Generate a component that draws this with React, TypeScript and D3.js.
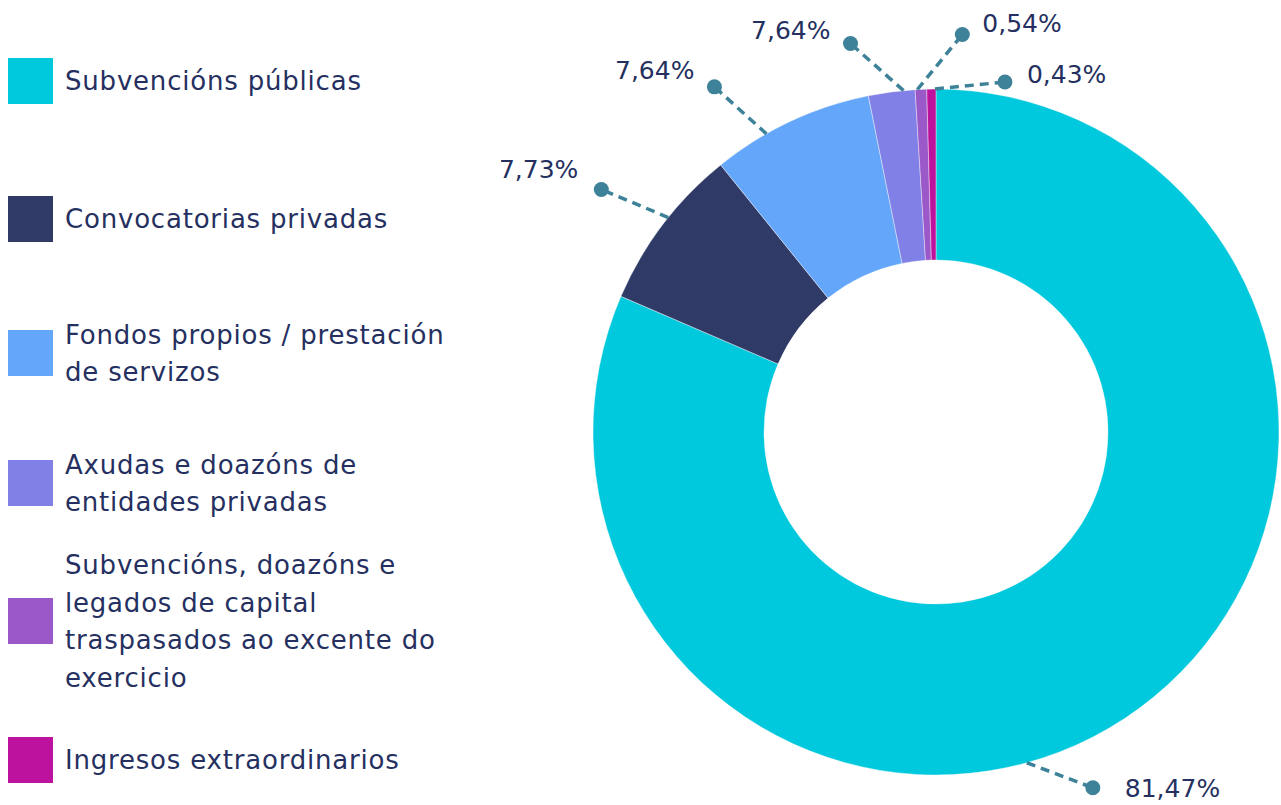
import React, { useEffect, useRef } from "react";
import * as d3 from "d3";

// legend lines per category (wrapped as in the original)
const categories: string[][] = [
  ["Subvencións públicas"],
  ["Convocatorias privadas"],
  ["Fondos propios / prestación", "de servizos"],
  ["Axudas e doazóns de", "entidades privadas"],
  ["Subvencións, doazóns e", "legados de capital", "traspasados ao excente do", "exercicio"],
  ["Ingresos extraordinarios"],
];

// slice sizes as drawn (percent)
const shares: number[] = [81.47, 7.73, 7.64, 2.19, 0.54, 0.43];

// printed labels (as they appear in the source)
const labels: string[] = ["81,47%", "7,73%", "7,64%", "7,64%", "0,54%", "0,43%"];

const colors = ["#00c9dd", "#2f3b66", "#64a6f9", "#8080e6", "#9b58c9", "#bd129d"];

// leader line layout: angle shift from slice middle (deg), dot offset, text offset/anchor
const leaders = [
  { shift: 18, dx: 66, dy: 25, tx: 32, ty: 0, anchor: "start" },
  { shift: 1.5, dx: -67, dy: -28, tx: -23, ty: -21, anchor: "end" },
  { shift: -4.5, dx: -52, dy: -47, tx: -20, ty: -17, anchor: "end" },
  { shift: 2, dx: -53, dy: -47, tx: -20, ty: -14, anchor: "end" },
  { shift: -0.6, dx: 45, dy: -55, tx: 20, ty: -12, anchor: "start" },
  { shift: 0.6, dx: 70, dy: -7, tx: 22, ty: -8, anchor: "start" },
];

const legendCenters = [81, 219, 353, 483, 621, 760];

const App: React.FC = () => {
  const svgRef = useRef<SVGSVGElement | null>(null);

  useEffect(() => {
    if (!svgRef.current) return;
    const width = 1281;
    const height = 805;
    const cx = 936;
    const cy = 432;
    const outerR = 343;
    const innerR = 172;
    const font = "'DejaVu Sans', sans-serif";
    const textColor = "#253060";
    const leaderColor = "#3e8299";

    const root = d3.select(svgRef.current);
    root.selectAll("*").remove();
    root.attr("width", width).attr("height", height);

    const pie = d3.pie<number>().sort(null).value((d) => d);
    const arcs = pie(shares);
    const arc = d3.arc<d3.PieArcDatum<number>>().innerRadius(innerR).outerRadius(outerR);

    const g = root.append("g").attr("transform", `translate(${cx}, ${cy})`);

    g.selectAll("path.slice")
      .data(arcs)
      .enter()
      .append("path")
      .attr("class", "slice")
      .attr("d", arc)
      .attr("fill", (_, i) => colors[i])
      .attr("stroke", "#ffffff")
      .attr("stroke-opacity", 0.5)
      .attr("stroke-width", 0.8);

    // leader lines + labels
    arcs.forEach((a, i) => {
      const L = leaders[i];
      const ang = (a.startAngle + a.endAngle) / 2 + (L.shift * Math.PI) / 180;
      const x0 = Math.sin(ang) * outerR;
      const y0 = -Math.cos(ang) * outerR;
      const x1 = x0 + L.dx;
      const y1 = y0 + L.dy;
      g.append("line")
        .attr("x1", x0)
        .attr("y1", y0)
        .attr("x2", x1)
        .attr("y2", y1)
        .attr("stroke", leaderColor)
        .attr("stroke-width", 3.5)
        .attr("stroke-dasharray", "9,6");
      g.append("circle").attr("cx", x1).attr("cy", y1).attr("r", 7.5).attr("fill", leaderColor);
      g.append("text")
        .attr("x", x1 + L.tx)
        .attr("y", y1 + L.ty)
        .attr("dy", "0.36em")
        .attr("text-anchor", L.anchor)
        .attr("font-family", font)
        .attr("font-size", 25)
        .attr("fill", textColor)
        .text(labels[i]);
    });

    // legend
    const lineH = 37.5;
    const legend = root.append("g");
    categories.forEach((lines, i) => {
      const c = legendCenters[i];
      legend
        .append("rect")
        .attr("x", 8)
        .attr("y", c - 23)
        .attr("width", 45)
        .attr("height", 46)
        .attr("fill", colors[i]);
      const top = c - ((lines.length - 1) * lineH) / 2;
      const t = legend
        .append("text")
        .attr("font-family", font)
        .attr("font-size", 26)
        .attr("letter-spacing", 0.8)
        .attr("fill", textColor);
      lines.forEach((ln, j) => {
        t.append("tspan")
          .attr("x", 65)
          .attr("y", top + j * lineH)
          .attr("dy", "0.36em")
          .text(ln);
      });
    });
  }, []);

  return (
    <svg
      ref={svgRef}
      style={{ position: "absolute", left: 0, top: 0, display: "block", background: "#ffffff" }}
    ></svg>
  );
};

export default App;
